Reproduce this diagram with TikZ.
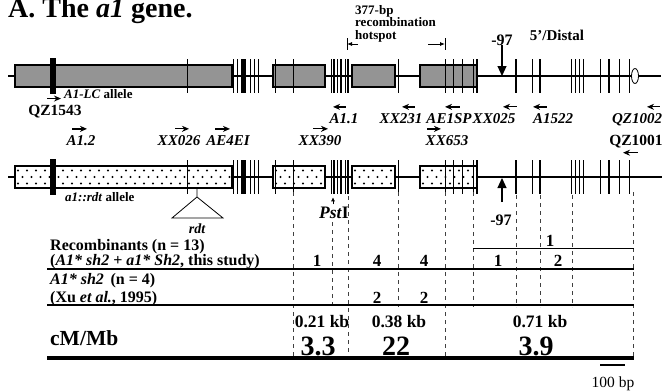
\documentclass[tikz,border=0pt]{standalone}
\usepackage{fontspec}
\setmainfont{Liberation Serif}
\usetikzlibrary{arrows.meta,positioning,calc}
\newcommand{\fsz}[1]{\fontsize{#1}{#1}\selectfont}
\tikzset{exon/.style={draw,line width=1.2pt},
  gline/.style={line width=1.2pt},
  primer/.style={font=\bfseries\itshape\fsz{15},inner sep=0pt,anchor=base},
  qzname/.style={font=\bfseries\fsz{15.5},inner sep=0pt,anchor=base},
  allele/.style={font=\bfseries\fsz{13},inner sep=0pt,anchor=base west},
  pR/.style={-{Stealth[length=7pt,width=6pt]},line width=1.3pt},
  pL/.style={{Stealth[length=7pt,width=6pt]}-,line width=1.3pt},
  bigarr/.style={-{Triangle[length=10pt,width=9pt]},line width=1.1pt},
  vdash/.style={dash pattern=on 4pt off 4pt,line width=0.5pt,black!75},
  tline/.style={line width=1.3pt},
  rowtxt/.style={font=\bfseries\fsz{16},inner sep=0pt,anchor=base west},
  cnt/.style={font=\bfseries\fsz{17},inner sep=0pt,anchor=base},
  kb/.style={font=\bfseries\fsz{17.5},inner sep=0pt,anchor=base},
  rate/.style={font=\bfseries\fsz{28},inner sep=0pt,anchor=base}}

\begin{document}
\begin{tikzpicture}[x=1pt,y=-1pt]
\useasboundingbox (0,0) rectangle (662,391);

\node[anchor=base west,inner sep=0pt,font=\bfseries\fsz{28}] (title) at (8,17) {A. The \textit{a1} gene.};

% the two alleles
\draw[gline] (8,76) -- (661,76);
\draw[gline] (8,177) -- (662,177);
\foreach \xa/\xb in {15/232,273/325,352/395,420/477}
  \draw[exon,fill=black!42] (\xa,65) rectangle (\xb,87);
\foreach \xa/\xb in {15/232,273/325,352/395,420/477}{
  \fill[white] (\xa,166) rectangle (\xb,188);
  \begin{scope}
    \clip (\xa,166) rectangle (\xb,188);
    \foreach \dx in {0,9,...,225}{
      \fill (\xa+\dx+3,170.5) circle (1.1);
      \fill (\xa+\dx+7.5,177) circle (1.1);
      \fill (\xa+\dx+3,183.5) circle (1.1);
    }
  \end{scope}
  \draw[exon] (\xa,166) rectangle (\xb,188);
}
\foreach \gy in {76,177}{
  \fill (50,\gy-18) rectangle (56,\gy+18);
  \foreach \tx/\tw in {187/0.6,233/0.8,237/0.8,243.5/4.5,250/0.8,254/0.8,258/0.8,
      275/0.8,293/0.6,331/0.8,334/1.6,337/0.6,341/1.6,345/0.8,348/1.6,398/0.8,
      445/0.6,453/0.6,462/0.6,473/0.8,477/1.6,516/1.5,532/0.8,540/1.5,
      571/0.6,575/0.6,579/0.6,583/0.6,600/0.8,609/1.5,619/0.6,629/0.6}
    \draw[line width=\tw pt] (\tx,\gy-17) -- (\tx,\gy+17);
}
\draw[fill=white,line width=0.8pt] (635,76) ellipse [x radius=3.5,y radius=7.5];

\node[allele] (lcal) at (64,98) {\textit{A1-LC} allele};
\node[allele] (rdtal) at (65,201) {\textit{a1::rdt} allele};

% hotspot
\node[anchor=north west,inner sep=0pt,align=left,font=\bfseries\fontsize{13}{12.5}\selectfont] (hotspot) at (355,5)
 {377-bp\\recombination\\hotspot};
\coordinate (hsL) at (347,44);
\coordinate (hsR) at (445,44);
\draw[line width=0.8pt] ([yshift=6pt]hsL) -- ([yshift=-6pt]hsL);
\draw[line width=0.8pt] ([yshift=6pt]hsR) -- ([yshift=-6pt]hsR);
\draw[-{Latex[length=5pt,width=4pt]},line width=0.8pt] ([xshift=11pt]hsL) -- (hsL);
\draw[-{Latex[length=5pt,width=4pt]},line width=0.8pt] ([xshift=-17pt]hsR) -- (hsR);

\node[font=\bfseries\fsz{15},inner sep=0pt] (distal) at (557,35) {5’/Distal};

% -97
\node[font=\bfseries\fsz{16},inner sep=0pt,anchor=base] (m97a) at (502,45) {-97};
\coordinate (s97a) at (502,76);
\draw[bigarr] (m97a.south) -- (s97a);
\node[font=\bfseries\fsz{16},inner sep=0pt,anchor=base] (m97b) at (501,225) {-97};
\coordinate (s97b) at (502,178);
\draw[bigarr] ([xshift=1pt,yshift=12pt]m97b.north) -- (s97b);

% primers
\node[qzname] (qz1543) at (55,115) {QZ1543};
\draw[pR] ([xshift=-8pt,yshift=6pt]qz1543.north) -- ++(14,0);
\node[primer] (a11) at (344,123) {A1.1};
\draw[pL] ([xshift=-11pt,yshift=6pt]a11.north) -- ++(13,0);
\node[primer] (xx231) at (401,123) {XX231};
\draw[pL] ([xshift=1pt,yshift=6pt]xx231.north) -- ++(13,0);
\node[primer] (ae1sp) at (449,123) {AE1SP};
\draw[pL] ([xshift=-4pt,yshift=6pt]ae1sp.north) -- ++(15,0);
\node[primer] (xx025) at (494,123) {XX025};
\draw[pL] ([xshift=9pt,yshift=6pt]xx025.north) -- ++(14,0);
\node[primer] (a1522) at (553,123) {A1522};
\draw[pL] ([xshift=-20pt,yshift=6pt]a1522.north) -- ++(14,0);
\node[primer] (qz1002) at (637,123) {QZ1002};
\draw[pL] ([xshift=10pt,yshift=6pt]qz1002.north) -- ++(13,0);

\node[primer] (a12) at (81,145) {A1.2};
\draw[pR] ([xshift=-9pt,yshift=6pt]a12.north) -- ++(15,0);
\node[primer] (xx026) at (179,145) {XX026};
\draw[pR] ([xshift=-4pt,yshift=6pt]xx026.north) -- ++(14,0);
\node[primer] (ae4ei) at (228,145) {AE4EI};
\draw[pR] ([xshift=-13pt,yshift=6pt]ae4ei.north) -- ++(15,0);
\node[primer] (xx390) at (320,145) {XX390};
\draw[pR] ([xshift=-7pt,yshift=6pt]xx390.north) -- ++(15,0);
\node[primer] (xx653) at (447,145) {XX653};
\draw[pR] ([xshift=-20pt,yshift=6pt]xx653.north) -- ++(14,0);
\node[qzname] (qz1001) at (636,145) {QZ1001};
\draw[pL] ([xshift=-13pt,yshift=-5pt]qz1001.south) -- ++(15,0);

% rdt insertion and PstI site
\coordinate (rdtins) at (197,188);
\draw[line width=0.8pt] (rdtins) -- ++(0,9) -- ++(-25,21) -- ++(51,0) -- ++(-26,-21);
\node[font=\bfseries\itshape\fsz{14},inner sep=0pt,anchor=base] (rdt) at (197,233) {rdt};
\node[font=\bfseries\fsz{17.5},inner sep=0pt,anchor=base] (pst) at (334,218) {\textit{Pst}I};
\draw[-{Latex[length=4pt,width=4pt]},line width=0.7pt] ([xshift=-1pt,yshift=2pt]pst.north) -- ++(0,-7);

% table
\foreach \dx/\da/\db in {293/192/357,332/222/307,348/196/357,398/192/307,445/192/357,
    473/192/307,516/195/307,540/195/307,572/195/307,633/192/357}
  \draw[vdash] (\dx,\da) -- (\dx,\db);
\draw[line width=1pt] (473,248) -- (634,248);
\draw[tline] (47,269) -- (634,269);
\draw[tline] (47,305) -- (634,305);
\draw[line width=4pt] (47,358) -- (634,358);

\node[rowtxt] (rec1) at (50,250) {Recombinants (n = 13)};
\node[rowtxt] (rec2) at (50,265) {(\textit{A1* sh2} + \textit{a1* Sh2}, this study)};
\node[rowtxt] (xu1) at (50,284) {\textit{A1* sh2}\, (n = 4)};
\node[rowtxt] (xu2) at (50,302) {(Xu \textit{et al.}, 1995)};

\node[cnt] (c1) at (550,246) {1};
\node[cnt] (c2) at (317,266) {1};
\node[cnt] (c3) at (377,266) {4};
\node[cnt] (c4) at (424,266) {4};
\node[cnt] (c5) at (498,266) {1};
\node[cnt] (c6) at (558,266) {2};
\node[cnt] (c7) at (377,303) {2};
\node[cnt] (c8) at (424,303) {2};

\node[kb] (kb1) at (322,327) {0.21 kb};
\node[kb] (kb2) at (399,327) {0.38 kb};
\node[kb] (kb3) at (540,327) {0.71 kb};
\node[font=\bfseries\fsz{21.5},inner sep=0pt,anchor=base west] (cmmb) at (50,345) {cM/Mb};
\node[rate] (r1) at (318,355) {3.3};
\node[rate] (r2) at (396,355) {22};
\node[rate] (r3) at (536,355) {3.9};

% scale
\coordinate (sb1) at (600,365);
\coordinate (sb2) at (625,365);
\draw[line width=1.2pt] (sb1) -- (sb2);
\node[font=\fsz{15.5},inner sep=0pt,anchor=base] (sbl) at (613,387) {100 bp};
\end{tikzpicture}
\end{document}
